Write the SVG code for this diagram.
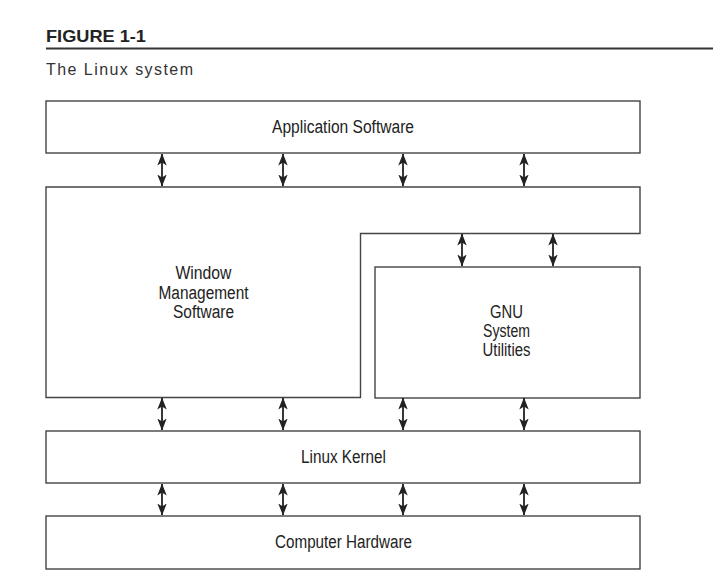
<svg xmlns="http://www.w3.org/2000/svg" width="713" height="587" viewBox="0 0 713 587">
<defs>
<marker id="ah" viewBox="0 0 12 10" refX="11.5" refY="5" markerWidth="12" markerHeight="10" markerUnits="userSpaceOnUse" orient="auto-start-reverse">
<path d="M0,0.3 L12,5 L0,9.7 L3,5 Z" fill="#222"/>
</marker>
<style>
.box{fill:#fff;stroke:#444;stroke-width:1.4}
.lbl{font-family:"Liberation Sans",Arial,sans-serif;font-size:18px;fill:#222;text-anchor:middle}
.arr{stroke:#222;stroke-width:1.8;fill:none;marker-start:url(#ah);marker-end:url(#ah)}
</style>
</defs>
<rect width="713" height="587" fill="#fff"/>
<text x="46" y="42" font-family="'Liberation Sans',Arial,sans-serif" font-weight="bold" font-size="16.5" textLength="100" lengthAdjust="spacingAndGlyphs" fill="#222">FIGURE 1-1</text>
<line x1="46" y1="48.5" x2="713" y2="48.5" stroke="#333" stroke-width="2.2"/>
<text x="46" y="75" font-family="'Liberation Sans',Arial,sans-serif" font-size="16" textLength="147" lengthAdjust="spacing" fill="#333">The Linux system</text>

<g id="app">
<rect class="box" x="46" y="101" width="594" height="52"/>
<text class="lbl" x="343" y="133" textLength="142" lengthAdjust="spacingAndGlyphs">Application Software</text>
</g>
<g id="wm">
<path class="box" d="M46,187 H640 V233.5 H360.5 V397.5 H46 Z"/>
<text class="lbl" x="203.5" y="279" textLength="56" lengthAdjust="spacingAndGlyphs">Window</text>
<text class="lbl" x="203.5" y="299" textLength="90" lengthAdjust="spacingAndGlyphs">Management</text>
<text class="lbl" x="203.5" y="318" textLength="61" lengthAdjust="spacingAndGlyphs">Software</text>
</g>
<g id="gnu">
<rect class="box" x="375" y="267" width="265" height="131"/>
<text class="lbl" x="506.5" y="318" textLength="33" lengthAdjust="spacingAndGlyphs">GNU</text>
<text class="lbl" x="506.5" y="337" textLength="47" lengthAdjust="spacingAndGlyphs">System</text>
<text class="lbl" x="506.5" y="356" textLength="48" lengthAdjust="spacingAndGlyphs">Utilities</text>
</g>
<g id="kernel">
<rect class="box" x="46" y="431" width="594" height="52"/>
<text class="lbl" x="343.5" y="463" textLength="85" lengthAdjust="spacingAndGlyphs">Linux Kernel</text>
</g>
<g id="hw">
<rect class="box" x="46" y="516" width="594" height="53"/>
<text class="lbl" x="343.5" y="548" textLength="137" lengthAdjust="spacingAndGlyphs">Computer Hardware</text>
</g>
<g id="connectors">
<line class="arr" x1="162" y1="154" x2="162" y2="186"/>
<line class="arr" x1="283" y1="154" x2="283" y2="186"/>
<line class="arr" x1="403" y1="154" x2="403" y2="186"/>
<line class="arr" x1="524" y1="154" x2="524" y2="186"/>
<line class="arr" x1="462" y1="234" x2="462" y2="266"/>
<line class="arr" x1="553" y1="234" x2="553" y2="266"/>
<line class="arr" x1="162" y1="398" x2="162" y2="430"/>
<line class="arr" x1="283" y1="398" x2="283" y2="430"/>
<line class="arr" x1="403" y1="398" x2="403" y2="430"/>
<line class="arr" x1="524" y1="398" x2="524" y2="430"/>
<line class="arr" x1="162" y1="484" x2="162" y2="515"/>
<line class="arr" x1="283" y1="484" x2="283" y2="515"/>
<line class="arr" x1="403" y1="484" x2="403" y2="515"/>
<line class="arr" x1="524" y1="484" x2="524" y2="515"/>
</g>
</svg>
